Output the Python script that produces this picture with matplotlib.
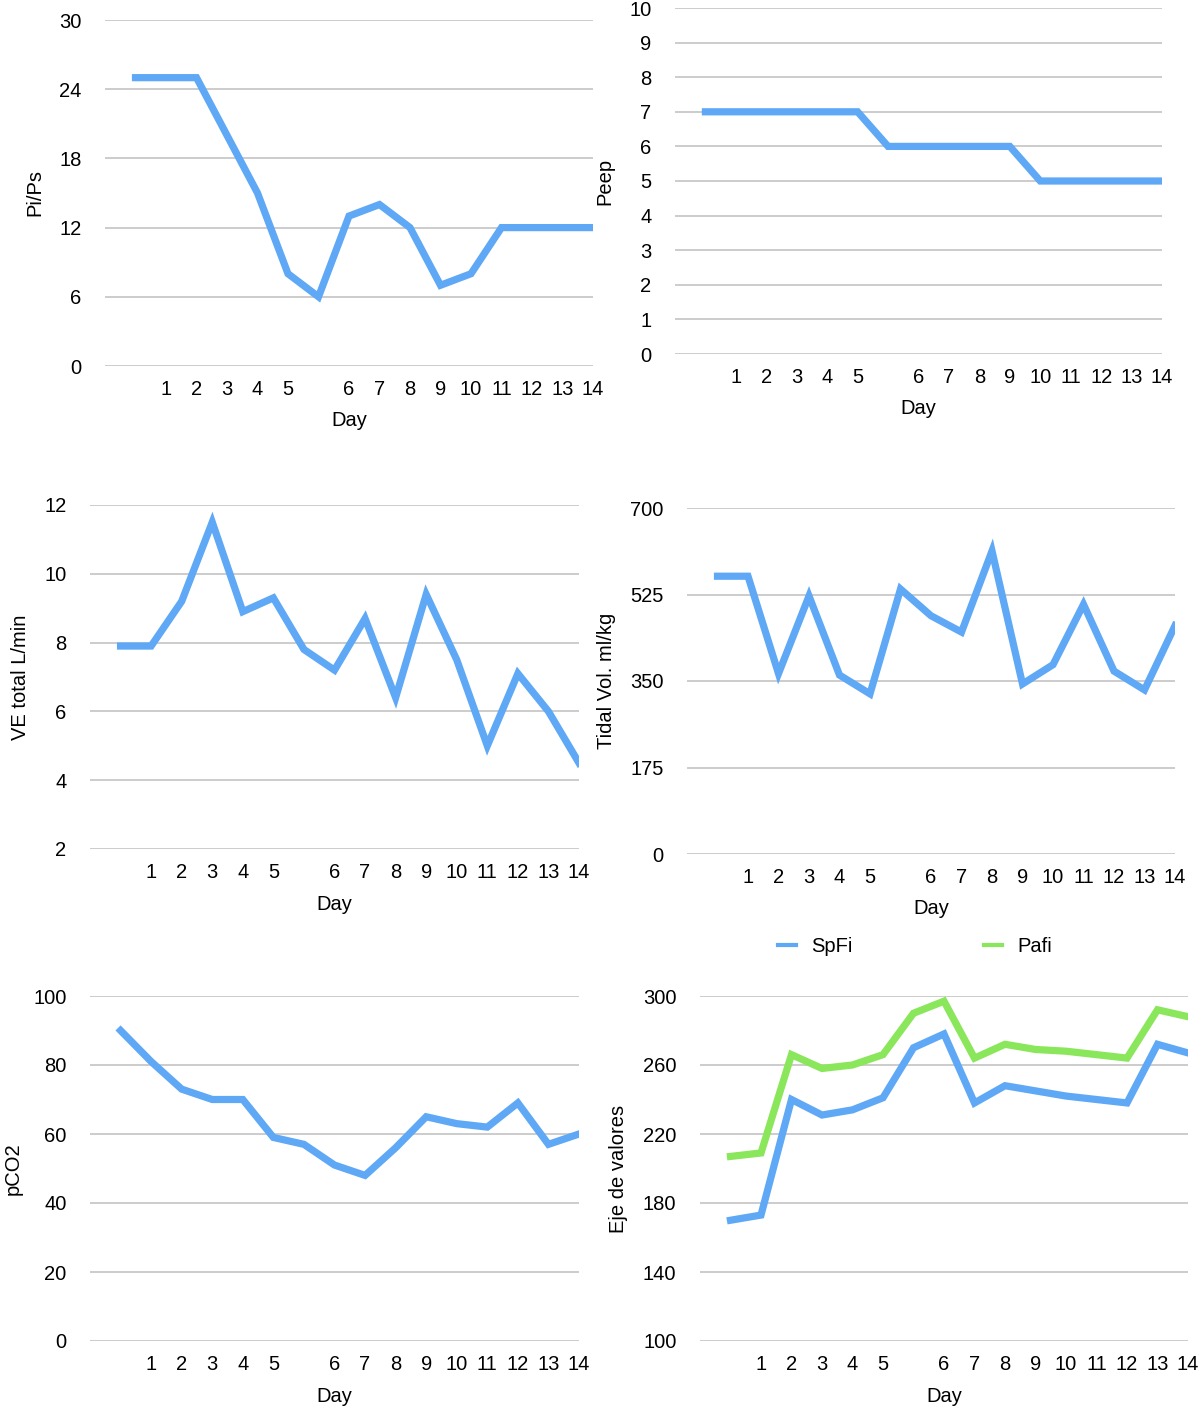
import numpy as np
import matplotlib
matplotlib.use('Agg')
import matplotlib.pyplot as plt

plt.rcParams['font.family'] = ['Liberation Sans', 'DejaVu Sans']

# categories: blank, 1..5, blank, 6..14
days = ['', '1', '2', '3', '4', '5', '', '6', '7', '8', '9', '10', '11', '12', '13', '14']

pi_ps = [25, 25, 25, 20, 15, 8, 6, 13, 14, 12, 7, 8, 12, 12, 12, 12]
peep = [7, 7, 7, 7, 7, 7, 6, 6, 6, 6, 6, 5, 5, 5, 5, 5]
ve_total = [7.9, 7.9, 9.2, 11.5, 8.9, 9.3, 7.8, 7.2, 8.7, 6.4, 9.4, 7.5, 5.0, 7.1, 6.0, 4.5]
tidal_vol = [562, 562, 365, 522, 362, 324, 536, 482, 449, 613, 344, 383, 505, 370, 332, 462]
pco2 = [90, 81, 73, 70, 70, 59, 57, 51, 48, 56, 65, 63, 62, 69, 57, 60]
spfi = [170, 173, 240, 231, 234, 241, 270, 278, 238, 248, 245, 242, 240, 238, 272, 267]
pafi = [207, 209, 266, 258, 260, 266, 290, 297, 264, 272, 269, 268, 266, 264, 292, 288]

BLUE = '#5ea8f6'
GREEN = '#8ae65a'
W, H = 1200, 1409
FS = 14.5

fig = plt.figure(figsize=(W / 100, H / 100), dpi=100)


def make_ax(left, right, top, bottom, yticks, ylabel, ylab_x):
    ax = fig.add_axes([left / W, 1 - bottom / H, (right - left) / W, (bottom - top) / H])
    ax.set_xlim(-1, 15)
    ax.set_ylim(yticks[0], yticks[-1])
    ax.set_yticks(yticks)
    ax.set_xticks(range(len(days)))
    ax.set_xticklabels(days)
    ax.grid(axis='y', color='#cccccc', linewidth=1.4)
    ax.set_axisbelow(True)
    for s in ax.spines.values():
        s.set_visible(False)
    ax.tick_params(axis='y', length=0, pad=17, labelsize=FS)
    ax.tick_params(axis='x', length=0, pad=10, labelsize=FS)
    fig.text(ylab_x / W, 1 - (top + bottom) / 2 / H, ylabel, rotation=90,
             ha='center', va='center', fontsize=FS)
    fig.text((left + right) / 2 / W, 1 - (bottom + 55) / H, 'Day',
             ha='center', va='center', fontsize=FS)
    return ax


x = np.arange(len(days))

ax1 = make_ax(105, 593, 20, 366, [0, 6, 12, 18, 24, 30], 'Pi/Ps', 35)
ax1.plot(x, pi_ps, color=BLUE, linewidth=5.2, solid_joinstyle='miter')

ax2 = make_ax(675, 1162, 8, 354, list(range(0, 11)), 'Peep', 605)
ax2.plot(x, peep, color=BLUE, linewidth=5.2, solid_joinstyle='miter')

ax3 = make_ax(90, 579, 505, 849, [2, 4, 6, 8, 10, 12], 'VE total L/min', 21)
ax3.plot(x, ve_total, color=BLUE, linewidth=5.2, solid_joinstyle='miter')

ax4 = make_ax(687, 1175, 508, 854, [0, 175, 350, 525, 700], 'Tidal Vol. ml/kg', 607)
ax4.plot(x, tidal_vol, color=BLUE, linewidth=5.2, solid_joinstyle='miter')

ax5 = make_ax(90, 579, 996, 1341, [0, 20, 40, 60, 80, 100], 'pCO2', 13)
ax5.plot(x, pco2, color=BLUE, linewidth=5.2, solid_joinstyle='miter')

ax6 = make_ax(700, 1188, 996, 1341, [100, 140, 180, 220, 260, 300], 'Eje de valores', 619)
ax6.plot(x, spfi, color=BLUE, linewidth=5.2, solid_joinstyle='miter', label='SpFi')
ax6.plot(x, pafi, color=GREEN, linewidth=5.2, solid_joinstyle='miter', label='Pafi')
leg = ax6.legend(loc='center', bbox_to_anchor=(915 / W, 1 - 947 / H), bbox_transform=fig.transFigure,
                 ncol=2, frameon=False, fontsize=FS, handlelength=0.9, handletextpad=0.75,
                 columnspacing=6.5)
for h in leg.get_lines():
    h.set_linewidth(3)

fig.savefig('out.png', dpi=100)
